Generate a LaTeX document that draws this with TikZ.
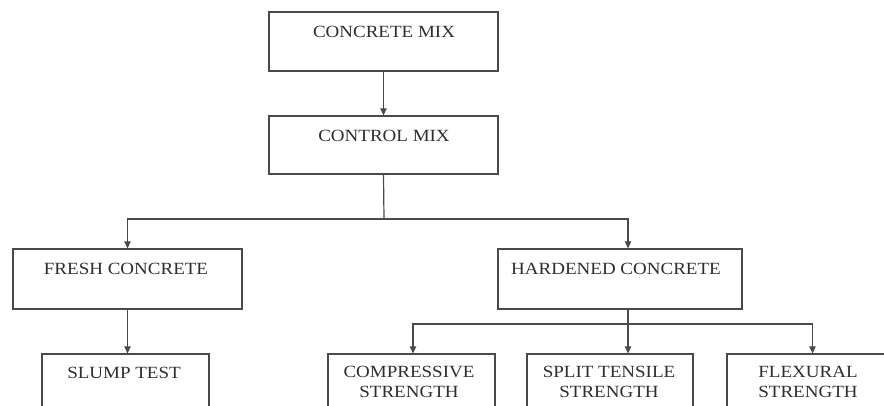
\documentclass[tikz,border=0pt]{standalone}
\usepackage{fontspec}
\setmainfont{Liberation Serif}
\usetikzlibrary{arrows.meta}
\definecolor{linegray}{HTML}{4A4A4A}
\definecolor{textgray}{HTML}{2E2E2E}
\newcommand{\squash}[1]{\scalebox{1}[0.9]{#1}}
\begin{document}
\begin{tikzpicture}[x=1pt,y=-1pt,
  box/.style={draw=linegray, line width=1.3pt, fill=white, inner sep=0pt},
  lbl/.style={text=textgray, font=\fontsize{19}{20}\selectfont, align=center, inner sep=0pt},
  conn/.style={draw=linegray, line width=1.2pt},
  arr/.style={conn, -{Triangle[length=7pt,width=6.5pt]}}]
\useasboundingbox (0,0) rectangle (884,405);
\clip (0,0) rectangle (884,405);
\fill[white] (0,0) rectangle (884,405);
% boxes
\node[box, minimum width=229pt, minimum height=59pt] (cm) at (383.5,41.5) {};
\node[box, minimum width=229pt, minimum height=58pt] (ctrl) at (383.5,145) {};
\node[box, minimum width=229pt, minimum height=60pt] (fresh) at (127.5,279) {};
\node[box, minimum width=244pt, minimum height=60pt] (hard) at (620,279) {};
\node[box, minimum width=167pt, minimum height=72pt] (slump) at (125.5,390) {};
\node[box, minimum width=167pt, minimum height=72pt] (comp) at (411.5,390) {};
\node[box, minimum width=166pt, minimum height=72pt] (split) at (610,390) {};
\node[box, minimum width=193pt, minimum height=72pt] (flex) at (823.5,390) {};
% labels
\node[lbl] (tcm) at (384,32) {\squash{CONCRETE MIX}};
\node[lbl] (tctrl) at (384,136) {\squash{CONTROL MIX}};
\node[lbl] (tfresh) at (126,269) {\squash{FRESH CONCRETE}};
\node[lbl] (thard) at (616,269) {\squash{HARDENED CONCRETE}};
\node[lbl] (tslump) at (124,373) {\squash{SLUMP TEST}};
\node[lbl] (tcomp) at (409,382) {\squash{COMPRESSIVE}\\\squash{STRENGTH}};
\node[lbl] (tsplit) at (609,382) {\squash{SPLIT TENSILE}\\\squash{STRENGTH}};
\node[lbl] (tflex) at (808,382) {\squash{FLEXURAL}\\\squash{STRENGTH}};
% connectors
\coordinate (j1) at (384,219);
\coordinate (j2) at (628,324);
\draw[arr] (cm.south) -- (ctrl.north);
\draw[conn] (ctrl.south) -- (j1);
\draw[arr] (j1) -| (fresh.north);
\draw[arr] (j1) -| ([xshift=8pt]hard.north);
\draw[conn] ([xshift=8pt]hard.south) -- (j2);
\draw[arr] (fresh.south) -- (slump.north -| fresh.south);
\draw[arr] (j2) -| ([xshift=1.5pt]comp.north);
\draw[arr] (j2) -| ([xshift=18pt]split.north);
\draw[arr] (j2) -| ([xshift=-11pt]flex.north);
\end{tikzpicture}
\end{document}
